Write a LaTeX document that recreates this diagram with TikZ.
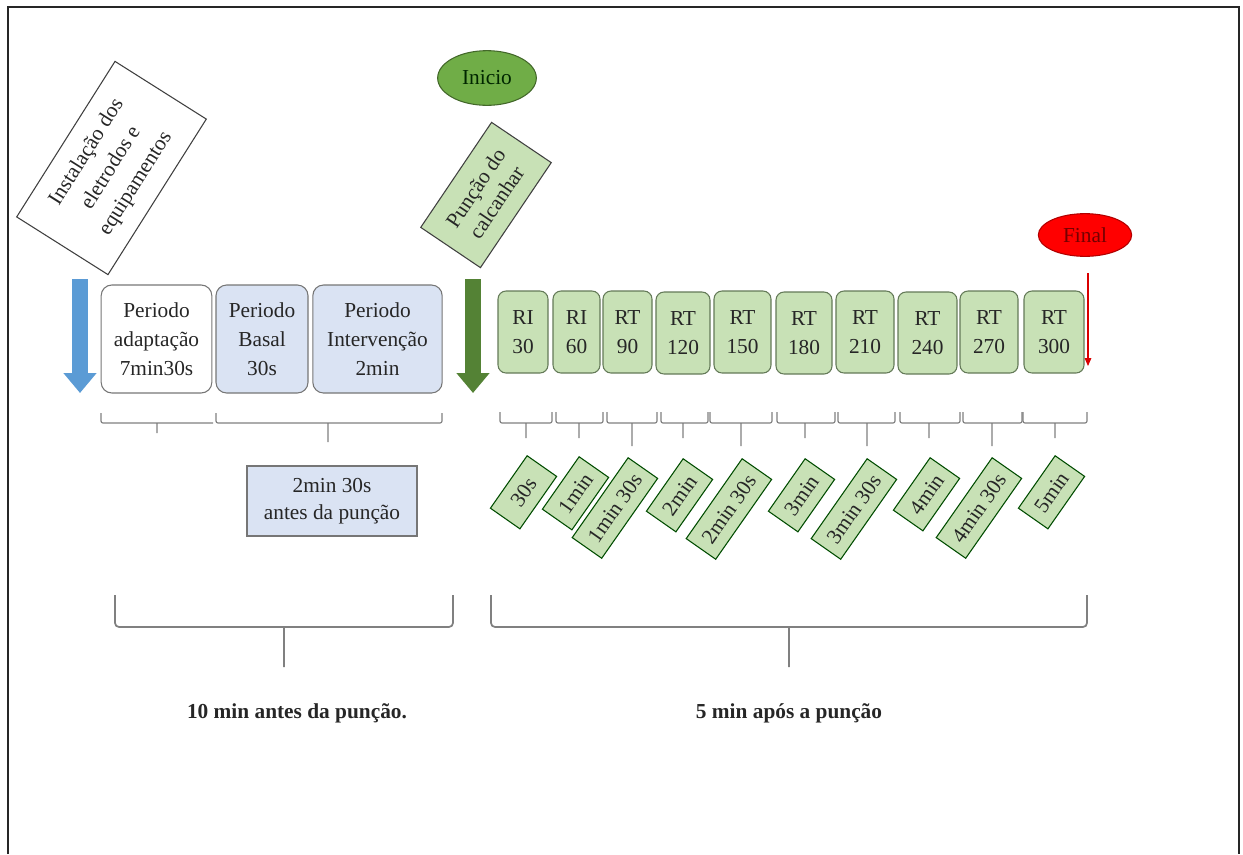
\documentclass[tikz,border=0pt]{standalone}
\usepackage{fontspec}
\setmainfont{Liberation Serif}
\usetikzlibrary{arrows.meta, shapes.geometric}
\definecolor{boxgray}{RGB}{118,118,118}
\definecolor{paleblue}{RGB}{218,227,243}
\definecolor{palegreen}{RGB}{200,225,182}
\definecolor{midgreen}{RGB}{112,173,71}
\definecolor{darkgreen}{RGB}{84,130,53}
\definecolor{arrowblue}{RGB}{91,155,213}
\definecolor{greenline}{RGB}{100,122,88}
\definecolor{txt}{RGB}{38,38,38}
\newcommand{\bodyfont}{\fontsize{16}{21.75}\selectfont}
\tikzset{
  period/.style  = {draw=boxgray, rounded corners=8pt, align=center, minimum height=81pt,
                    inner sep=2pt, font=\bodyfont, text=txt, line width=0.8pt},
  basal/.style   = {period, fill=paleblue},
  rt/.style      = {draw=greenline, fill=palegreen, rounded corners=6pt, align=center,
                    minimum height=61.5pt, inner sep=1pt, font=\bodyfont, text=txt, line width=0.8pt},
  timetag/.style = {draw=black!70!green, fill=palegreen, rotate=55, minimum width=48pt,
                    minimum height=27pt, inner xsep=7pt, inner ysep=1pt, font=\bodyfont,
                    text=txt, line width=0.8pt},
  note/.style    = {draw=black!75, align=center, font=\bodyfont, text=txt, line width=0.8pt, inner sep=2pt},
  oval/.style    = {ellipse, draw, font=\bodyfont, inner sep=0pt, line width=0.8pt},
  fatarrow/.style = {line width=11.5pt, -{Triangle[width=24pt, length=15pt]}},
  curly/.style   = {draw=gray, line width=0.9pt, rounded corners=1.5pt},
  bigcurly/.style = {curly, line width=1.3pt, rounded corners=3pt},
}
% small brace under the RI/RT boxes: left, right, tick x, tick end
\newcommand{\tbrace}[4]{\draw[curly] (#1,412) -- (#1,423) -- (#2,423) -- (#2,412) (#3,423) -- (#3,#4);}

\begin{document}
\begin{tikzpicture}[x=0.75pt, y=-0.75pt]
  \useasboundingbox (0,0) rectangle (1243,854);
  \draw[line width=1.5pt, black!85] (8,854) -- (8,7) -- (1239,7) -- (1239,854);

  % before the puncture
  \node[note, rotate=57.7, minimum width=138pt, minimum height=81pt] at (111.5,168) (inst)
       {Instalação dos\\eletrodos e\\equipamentos};
  \coordinate (bluetop) at (80,279);
  \coordinate (blueend) at (80,393);
  \draw[fatarrow, arrowblue] (bluetop) -- (blueend);

  \node[period, minimum width=83pt]  at (156.5,339) (adapt) {Periodo\\adaptação\\7min30s};
  \node[basal,  minimum width=69pt]  at (262,339)   (basal) {Periodo\\Basal\\30s};
  \node[basal,  minimum width=97pt]  at (377.5,339) (interv) {Periodo\\Intervenção\\2min};

  \draw[curly] (101,413) -- (101,423) -- (213,423) (157,423) -- (157,433);
  \draw[curly] (216,413) -- (216,423) -- (442,423) -- (442,413) (328,423) -- (328,442);

  \node[note, draw=boxgray, fill=paleblue, minimum width=127.5pt, minimum height=52.5pt,
        font=\fontsize{16}{20}\selectfont] at (332,501) (antes) {2min 30s\\antes da punção};

  % puncture
  \node[oval, draw=darkgreen!80!black, fill=midgreen, minimum width=74pt, minimum height=41pt,
        text=black!85!green] at (487,78) (inicio) {Inicio};
  \node[note, fill=palegreen, rotate=56, minimum width=95pt, minimum height=54pt,
        font=\fontsize{16}{19}\selectfont] at (486,195) (punc) {Punção do\\calcanhar};
  \coordinate (greentop) at (473,279);
  \coordinate (greenend) at (473,393);
  \draw[fatarrow, darkgreen, line width=12.5pt] (greentop) -- (greenend);

  % after the puncture
  \node[rt, minimum width=37.5pt]  at (523,332)    (ri30)  {RI\\30};
  \node[rt, minimum width=35.25pt] at (576.5,332)  (ri60)  {RI\\60};
  \node[rt, minimum width=36.75pt] at (627.5,332)  (rt90)  {RT\\90};
  \node[rt, minimum width=40.5pt]  at (683,333)    (rt120) {RT\\120};
  \node[rt, minimum width=42.75pt] at (742.5,332)  (rt150) {RT\\150};
  \node[rt, minimum width=42pt]    at (804,333)    (rt180) {RT\\180};
  \node[rt, minimum width=43.5pt]  at (865,332)    (rt210) {RT\\210};
  \node[rt, minimum width=44.25pt] at (927.5,333)  (rt240) {RT\\240};
  \node[rt, minimum width=43.5pt]  at (989,332)    (rt270) {RT\\270};
  \node[rt, minimum width=45pt]    at (1054,332)   (rt300) {RT\\300};

  \node[oval, draw=red!70!black, fill=red, minimum width=70pt, minimum height=32pt,
        text=red!45!black] at (1085,235) (final) {Final};
  \coordinate (redtop) at (1088,273);
  \coordinate (redend) at (1088,366);
  \draw[red!85!black, line width=0.8pt, -{Triangle[length=6pt, width=5pt]}] (redtop) -- (redend);

  \tbrace{500}{552}{526}{438}
  \tbrace{556}{603}{579}{438}
  \tbrace{607}{657}{632}{446}
  \tbrace{661}{708}{683}{438}
  \tbrace{710}{772}{741}{446}
  \tbrace{777}{835}{805}{438}
  \tbrace{838}{895}{867}{446}
  \tbrace{900}{960}{929}{438}
  \tbrace{963}{1022}{992}{446}
  \tbrace{1023}{1087}{1055}{438}

  \node[timetag, anchor=north east] at (527,455)  (lab30)  {30s};
  \node[timetag, anchor=north east] at (579,456)  (lab60)  {1min};
  \node[timetag, anchor=north east] at (628,457)  (lab90)  {1min 30s};
  \node[timetag, anchor=north east] at (683,458)  (lab120) {2min};
  \node[timetag, anchor=north east] at (742,458)  (lab150) {2min 30s};
  \node[timetag, anchor=north east] at (805,458)  (lab180) {3min};
  \node[timetag, anchor=north east] at (867,458)  (lab210) {3min 30s};
  \node[timetag, anchor=north east] at (930,457)  (lab240) {4min};
  \node[timetag, anchor=north east] at (992,457)  (lab270) {4min 30s};
  \node[timetag, anchor=north east] at (1055,455) (lab300) {5min};

  % the two periods
  \draw[bigcurly] (115,595) -- (115,627) -- (453,627) -- (453,595) (284,627) -- (284,667);
  \draw[bigcurly] (491,595) -- (491,627) -- (1087,627) -- (1087,595) (789,627) -- (789,667);
  \node[font=\bodyfont\bfseries, text=txt] at (297,713) (antesall) {10 min antes da punção.};
  \node[font=\bodyfont\bfseries, text=txt] at (789,713) (aposall)  {5 min após a punção};
\end{tikzpicture}
\end{document}
